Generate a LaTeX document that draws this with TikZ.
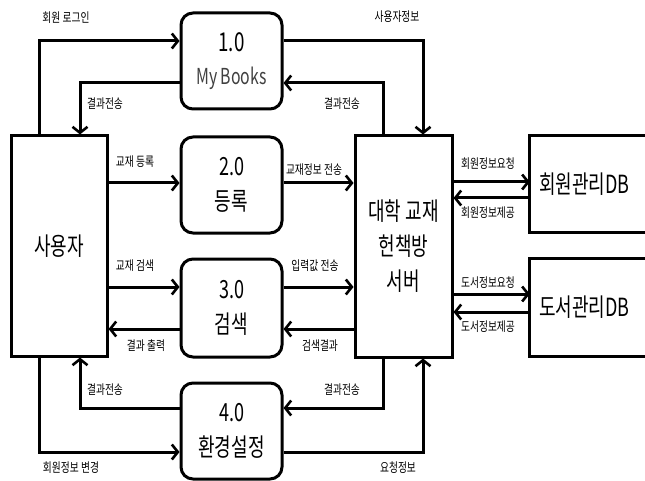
\documentclass[tikz,border=0pt]{standalone}
\usepackage{fontspec}
\setmainfont{Noto Sans CJK KR}
\newfontfamily\kfont{Noto Sans CJK KR}[FakeStretch=0.75]
\newfontfamily\bfont{Noto Sans CJK KR}[FakeStretch=0.72]
\usetikzlibrary{arrows.meta}
\begin{document}
\begin{tikzpicture}[x=1pt,y=-1pt,
  box/.style={draw,line width=3pt,minimum width=96pt,inner sep=0pt},
  proc/.style={draw,line width=3pt,rounded corners=12pt,minimum width=101pt,minimum height=96pt,inner sep=0pt,align=center,font=\bfont\fontsize{25}{35}\selectfont},
  flow/.style={line width=3pt,-{Straight Barb[length=6pt,width=15pt,line width=2.6pt]}},
  lbl/.style={font=\kfont\fontsize{13}{14}\selectfont,inner sep=0pt},
  big/.style={font=\bfont\fontsize{25}{35}\selectfont,align=center}]
\useasboundingbox (0,0) rectangle (645,481);
% nodes
\node[box,minimum height=220pt,big] (user) at (59,246) {사용자};
\node[proc] (p1) at (231.5,61) {\fontsize{26}{33}\selectfont 1.0\\[-2pt]\color{black!75}\fontsize{22}{30}\selectfont My Books};
\node[proc] (p2) at (231.5,185) {2.0\\등록};
\node[proc,minimum height=98pt] (p3) at (231.5,308) {3.0\\검색};
\node[proc] (p4) at (231.5,431) {4.0\\환경설정};
\node[box,minimum width=97pt,minimum height=221pt,big] (srv) at (403.5,246.5) {대학 교재\\헌책방\\서버};
\node[minimum width=115pt,minimum height=96pt,inner sep=0pt,big] (db1) at (587.5,184) {\hspace*{-6pt}회원관리DB};
\node[minimum width=115pt,minimum height=97pt,inner sep=0pt,big] (db2) at (587.5,307.5) {\hspace*{-6pt}도서관리DB};
\draw[line width=3pt] ([xshift=6pt]db1.north east) -- (db1.north west) -- (db1.south west) -- ([xshift=6pt]db1.south east);
\draw[line width=3pt] ([xshift=6pt]db2.north east) -- (db2.north west) -- (db2.south west) -- ([xshift=6pt]db2.south east);
% helper x positions
\coordinate (xa) at (39,0);
\coordinate (xb) at (80,0);
\coordinate (xc) at (383,0);
\coordinate (xd) at (423,0);
% connectors
\draw[flow] (user.north -| xa) |- ([yshift=20pt]p1.west);
\draw[flow] ([yshift=-22pt]p1.west) -| (user.north -| xb);
\draw[flow] ([yshift=20pt]p1.east) -| (srv.north -| xd);
\draw[flow] (srv.north -| xc) |- ([yshift=-22pt]p1.east);
\draw[flow] ([yshift=2pt]p2.west -| user.east) -- ([yshift=2pt]p2.west);
\draw[flow] ([yshift=2pt]p2.east) -- ([yshift=2pt]p2.east -| srv.west);
\draw[flow] ([yshift=21pt]p3.west -| user.east) -- ([yshift=21pt]p3.west);
\draw[flow] ([yshift=21pt]p3.east) -- ([yshift=21pt]p3.east -| srv.west);
\draw[flow] ([yshift=-21pt]p3.east -| srv.west) -- ([yshift=-21pt]p3.east);
\draw[flow] ([yshift=-21pt]p3.west) -- ([yshift=-21pt]p3.west -| user.east);
\draw[flow] ([yshift=23pt]p4.west) -| (user.south -| xb);
\draw[flow] (user.south -| xa) |- ([yshift=-21pt]p4.west);
\draw[flow] (srv.south -| xc) |- ([yshift=23pt]p4.east);
\draw[flow] ([yshift=-21pt]p4.east) -| (srv.south -| xd);
\draw[flow] ([yshift=2pt]db1.west -| srv.east) -- ([yshift=2pt]db1.west);
\draw[flow] ([yshift=-14pt]db1.west) -- ([yshift=-14pt]db1.west -| srv.east);
\draw[flow] ([yshift=13.5pt]db2.west -| srv.east) -- ([yshift=13.5pt]db2.west);
\draw[flow] ([yshift=-4.5pt]db2.west) -- ([yshift=-4.5pt]db2.west -| srv.east);
% labels
\node[lbl] (l1) at (66,18) {회원 로그인};
\node[lbl] (l2) at (397,17) {사용자정보};
\node[lbl] (l3) at (105,104) {결과전송};
\node[lbl] (l4) at (342,104) {결과전송};
\node[lbl] (l5) at (135,162) {교재 등록};
\node[lbl] (l6) at (314,170) {교재정보 전송};
\node[lbl] (l7) at (488,164) {회원정보요청};
\node[lbl] (l8) at (488,213) {회원정보제공};
\node[lbl] (l9) at (135,266) {교재 검색};
\node[lbl] (l10) at (315,266) {입력값 전송};
\node[lbl] (l11) at (146,346) {결과 출력};
\node[lbl] (l12) at (320,346) {검색결과};
\node[lbl] (l13) at (105,390) {결과전송};
\node[lbl] (l14) at (342,390) {결과전송};
\node[lbl] (l15) at (71,468) {회원정보 변경};
\node[lbl] (l16) at (398,468) {요청정보};
\node[lbl] (l17) at (488,283) {도서정보요청};
\node[lbl] (l18) at (488,327) {도서정보제공};
\end{tikzpicture}
\end{document}
